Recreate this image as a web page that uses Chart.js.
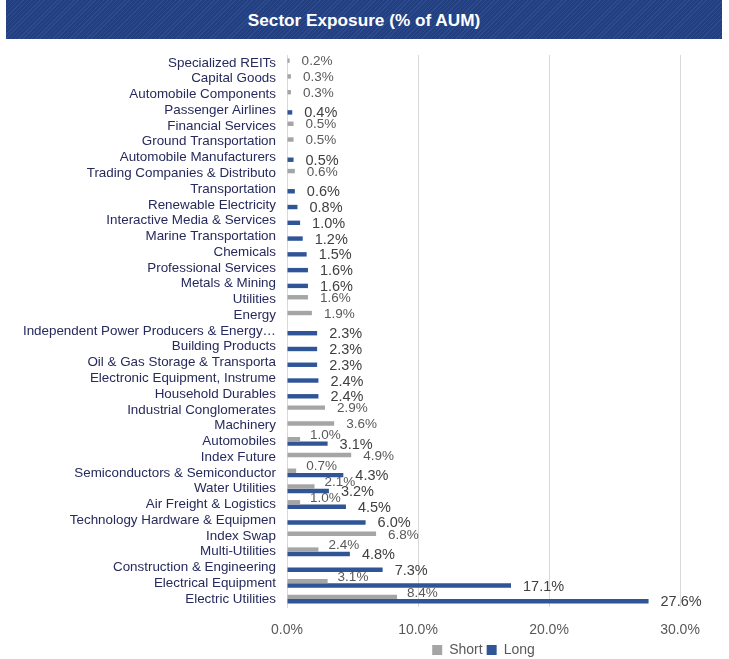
<!DOCTYPE html>
<html>
<head>
<meta charset="utf-8">
<script src="https://cdn.jsdelivr.net/npm/chart.js@4"></script>
<style>
  body { margin: 0; background: #fff; }
  #wrap { position: relative; width: 729px; height: 659px; }
  #banner {
    position: absolute; left: 6px; top: 0; width: 716px; height: 39px;
    background: repeating-linear-gradient(-45deg, #223f80 0px, #223f80 2px, #2d4b8e 2px, #2d4b8e 3px);
    color: #fff; font: bold 17.2px "Liberation Sans", Arial, sans-serif;
    text-align: center; line-height: 40px;
  }
</style>
</head>
<body>
<div id="wrap">
  <canvas id="sectorChart" width="729" height="659"></canvas>
  <div id="banner">Sector Exposure (% of AUM)</div>
</div>
<script>
const sectors = [
  "Specialized REITs", "Capital Goods", "Automobile Components", "Passenger Airlines",
  "Financial Services", "Ground Transportation", "Automobile Manufacturers",
  "Trading Companies & Distributo", "Transportation", "Renewable Electricity",
  "Interactive Media & Services", "Marine Transportation", "Chemicals",
  "Professional Services", "Metals & Mining", "Utilities", "Energy",
  "Independent Power Producers & Energy\u2026", "Building Products",
  "Oil & Gas Storage & Transporta", "Electronic Equipment, Instrume",
  "Household Durables", "Industrial Conglomerates", "Machinery", "Automobiles",
  "Index Future", "Semiconductors & Semiconductor", "Water Utilities",
  "Air Freight & Logistics", "Technology Hardware & Equipmen", "Index Swap",
  "Multi-Utilities", "Construction & Engineering", "Electrical Equipment",
  "Electric Utilities"
];
const shortVals = [0.2, 0.3, 0.3, null, 0.5, 0.5, null, 0.6, null, null, null, null, null,
  null, null, 1.6, 1.9, null, null, null, null, null, 2.9, 3.6, 1.0, 4.9, 0.7, 2.1, 1.0,
  null, 6.8, 2.4, null, 3.1, 8.4];
const longVals = [null, null, null, 0.4, null, null, 0.5, null, 0.6, 0.8, 1.0, 1.2, 1.5,
  1.6, 1.6, null, null, 2.3, 2.3, 2.3, 2.4, 2.4, null, null, 3.1, null, 4.3, 3.2, 4.5,
  6.0, null, 4.8, 7.3, 17.1, 27.6];
const xTicks = [0, 10, 20, 30];

// value labels next to the bar ends
const barLabels = {
  id: "barLabels",
  afterDatasetsDraw(chart) {
    const ctx = chart.ctx;
    ctx.save();
    ctx.textAlign = "left";
    ctx.textBaseline = "middle";
    chart.data.datasets.forEach((ds, di) => {
      const meta = chart.getDatasetMeta(di);
      meta.data.forEach((bar, i) => {
        const v = ds.data[i];
        if (v == null) return;
        if (di === 1) {
          ctx.font = "14.5px 'Liberation Sans', Arial, sans-serif";
          ctx.fillStyle = "#404040";
          ctx.fillText(v.toFixed(1) + "%", bar.x + 12, bar.y + 1);
        } else {
          const both = longVals[i] != null;
          ctx.font = "13.5px 'Liberation Sans', Arial, sans-serif";
          ctx.fillStyle = "#595959";
          ctx.fillText(v.toFixed(1) + "%", bar.x + (both ? 10 : 12), bar.y + (both ? -4 : 1));
        }
      });
    });
    ctx.restore();
  }
};

// keep the legend short and centre it under the plot area, like the original
const legendUnderPlot = {
  id: "legendUnderPlot",
  beforeLayout(chart) {
    const lg = chart.legend;
    if (lg && !lg._fitPatched) {
      const fit = lg.fit;
      lg.fit = function () { fit.call(this); this.height = 20; };
      lg._fitPatched = true;
    }
  },
  afterLayout(chart) {
    if (!chart.legend) return;
    chart.legend.left = chart.chartArea.left;
    chart.legend.right = chart.chartArea.right;
  }
};

new Chart("sectorChart", {
  type: "bar",
  data: {
    labels: sectors,
    datasets: [
      { label: "Short", data: shortVals, backgroundColor: "#a5a5a5",
        categoryPercentage: 0.56, barPercentage: 1.0 },
      { label: "Long", data: longVals, backgroundColor: "#2f5597",
        categoryPercentage: 0.56, barPercentage: 1.0 }
    ]
  },
  options: {
    indexAxis: "y",
    responsive: false,
    animation: false,
    layout: { padding: { top: 55, right: 49, left: 0, bottom: 0 } },
    scales: {
      x: {
        min: 0, max: 30,
        afterBuildTicks(scale) { scale.ticks = xTicks.map(v => ({ value: v })); },
        afterFit(scale) { scale.height = 32; },
        grid: { color: "#d9d9d9", drawTicks: false },
        border: { display: false },
        ticks: {
          padding: 15,
          color: "#595959",
          font: { family: "'Liberation Sans', Arial, sans-serif", size: 14 },
          callback: v => v.toFixed(1) + "%"
        }
      },
      y: {
        grid: { display: false, drawTicks: false },
        border: { color: "#d9d9d9" },
        afterFit(scale) { scale.width = 287; },
        ticks: {
          autoSkip: false,
          padding: 11,
          color: "#262a5c",
          font: { family: "'Liberation Sans', Arial, sans-serif", size: 13.4 }
        }
      }
    },
    plugins: {
      legend: {
        position: "bottom",
        labels: {
          boxWidth: 10, boxHeight: 10, padding: 4,
          color: "#595959",
          font: { family: "'Liberation Sans', Arial, sans-serif", size: 14 }
        }
      },
      tooltip: { enabled: false }
    }
  },
  plugins: [barLabels, legendUnderPlot]
});
</script>
</body>
</html>
